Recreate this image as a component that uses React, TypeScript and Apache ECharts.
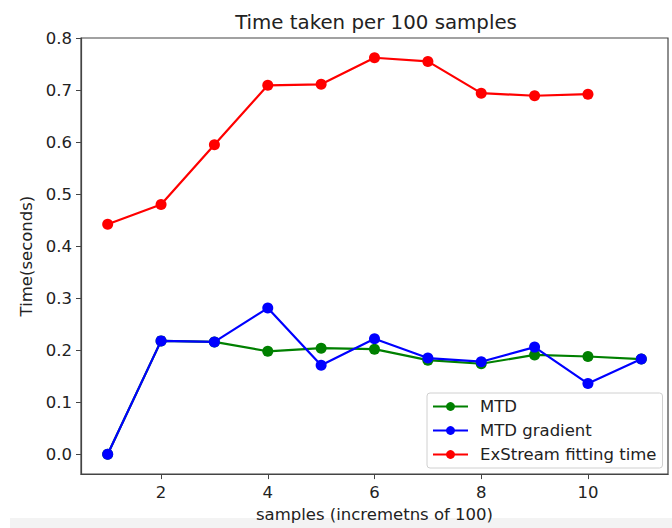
import React, { useEffect, useRef } from "react";
import * as echarts from "echarts";

const xs = [1, 2, 3, 4, 5, 6, 7, 8, 9, 10, 11];
const mtd = [0.0, 0.218, 0.216, 0.198, 0.204, 0.202, 0.181, 0.174, 0.191, 0.188, 0.183];
const mtdGradient = [0.0, 0.218, 0.216, 0.281, 0.171, 0.222, 0.185, 0.178, 0.206, 0.136, 0.183];
const exstream = [0.442, 0.48, 0.595, 0.709, 0.711, 0.762, 0.755, 0.694, 0.689, 0.692];
const xTicks = [2, 4, 6, 8, 10];
const yTicks = [0.0, 0.1, 0.2, 0.3, 0.4, 0.5, 0.6, 0.7, 0.8];

const FONT = "DejaVu Sans";
const FS = 16.5;

export default function App() {
  const ref = useRef<HTMLDivElement>(null);
  useEffect(() => {
    if (!ref.current) return;
    const chart = echarts.init(ref.current, undefined, { renderer: "svg" });
    const pair = (arr: number[]) => arr.map((v, i) => [xs[i], v]);
    const axisLine = { show: true, onZero: false, lineStyle: { color: "#444", width: 1.2 } };
    chart.setOption({
      animation: false,
      backgroundColor: "#ffffff",
      title: {
        text: "Time taken per 100 samples",
        left: 371,
        top: 7,
        textAlign: "center",
        textStyle: { fontFamily: FONT, fontSize: 19.8, fontWeight: "normal", color: "#222" },
      },
      grid: {
        left: 81,
        top: 38,
        right: 4,
        bottom: 51,
        show: true,
        borderColor: "#444",
        borderWidth: 1.2,
        backgroundColor: "transparent",
      },
      legend: {
        orient: "vertical",
        left: 427,
        top: 393,
        itemWidth: 35,
        itemHeight: 11,
        itemGap: 7,
        padding: [5, 6, 5, 5],
        borderColor: "#d0d0d0",
        borderWidth: 1,
        borderRadius: 3,
        backgroundColor: "rgba(255,255,255,0.85)",
        textStyle: { fontFamily: FONT, fontSize: FS, color: "#222", padding: [0, 0, 0, 7] },
        data: ["MTD", "MTD gradient", "ExStream fitting time"],
      },
      xAxis: {
        type: "value",
        min: 0.5,
        max: 11.5,
        name: "samples (incremetns of 100)",
        nameLocation: "middle",
        nameGap: 31,
        nameTextStyle: { fontFamily: FONT, fontSize: FS, color: "#222" },
        axisLine,
        splitLine: { show: false },
        axisTick: { show: true, length: 5, lineStyle: { color: "#444" }, customValues: xTicks },
        axisLabel: {
          customValues: xTicks,
          fontFamily: FONT,
          fontSize: FS,
          color: "#222",
          margin: 10,
        },
      },
      yAxis: {
        type: "value",
        min: -0.038,
        max: 0.8,
        name: "Time(seconds)",
        nameLocation: "middle",
        nameGap: 44,
        nameTextStyle: { fontFamily: FONT, fontSize: FS, color: "#222" },
        axisLine,
        splitLine: { show: false },
        axisTick: { show: true, length: 5, lineStyle: { color: "#444" }, customValues: yTicks },
        axisLabel: {
          customValues: yTicks,
          formatter: (v: number) => v.toFixed(1),
          fontFamily: FONT,
          fontSize: FS,
          color: "#222",
          margin: 9,
        },
      },
      series: [
        {
          name: "MTD",
          type: "line",
          data: pair(mtd),
          color: "#008000",
          symbol: "circle",
          symbolSize: 11,
          lineStyle: { width: 2.2 },
          z: 2,
        },
        {
          name: "MTD gradient",
          type: "line",
          data: pair(mtdGradient),
          color: "#0000ff",
          symbol: "circle",
          symbolSize: 11,
          lineStyle: { width: 2.2 },
          z: 3,
        },
        {
          name: "ExStream fitting time",
          type: "line",
          data: pair(exstream),
          color: "#ff0000",
          symbol: "circle",
          symbolSize: 11,
          lineStyle: { width: 2.2 },
          z: 4,
        },
      ],
      graphic: [
        {
          type: "rect",
          shape: { x: 10, y: 518, width: 662, height: 10 },
          style: { fill: "#f3f3f3" },
          silent: true,
        },
      ],
    });
    return () => chart.dispose();
  }, []);
  return <div ref={ref} style={{ width: 672, height: 528, position: "absolute", left: 0, top: 0 }} />;
}
